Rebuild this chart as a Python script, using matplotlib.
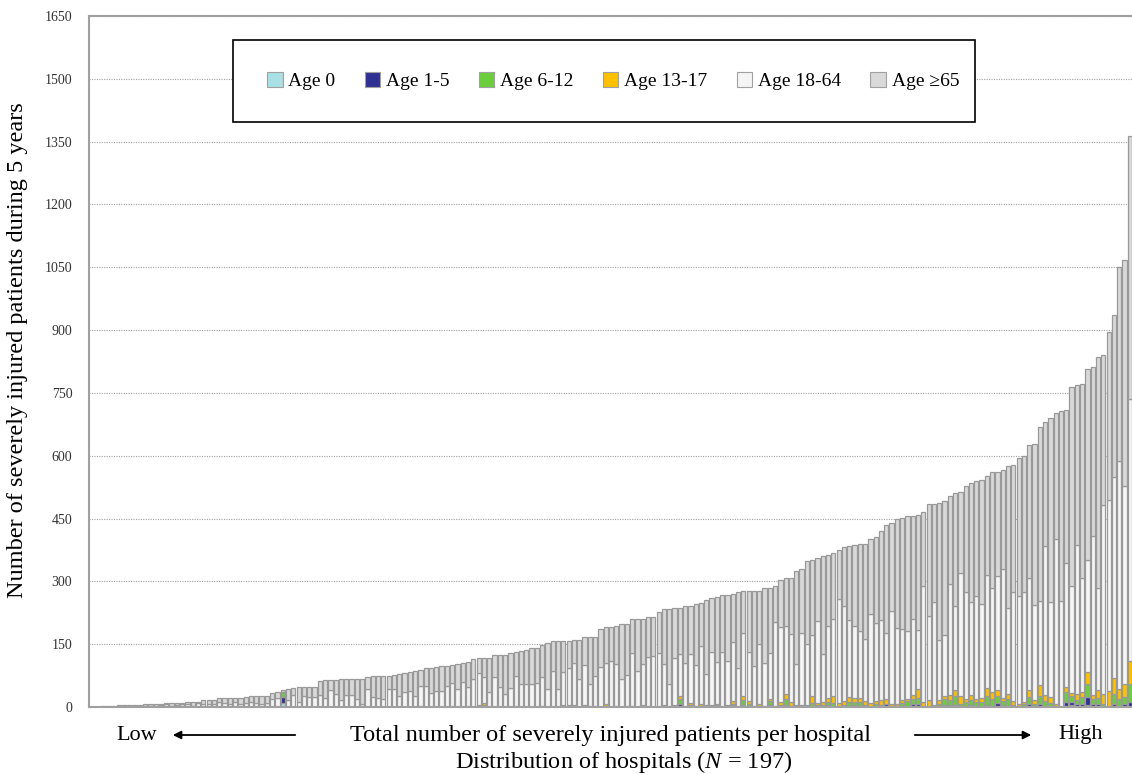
import numpy as np
import matplotlib
matplotlib.use("Agg")
import matplotlib.pyplot as plt
from matplotlib.patches import Patch, Rectangle

plt.rcParams['font.family'] = ['Liberation Serif', 'DejaVu Serif']
plt.rcParams['mathtext.fontset'] = 'custom'
plt.rcParams['mathtext.rm'] = 'Liberation Serif'
plt.rcParams['mathtext.it'] = 'Liberation Serif:italic'

# Total severely injured patients per hospital (5 years), hospitals sorted ascending
total = [
    1, 1, 2, 2, 3, 4, 4, 5, 5, 5, 6, 6, 7, 7, 9, 9, 10, 10, 11, 12,
    13, 16, 17, 17, 21, 21, 21, 21, 21, 24, 26, 26, 26, 27, 33, 37, 40, 42, 45, 47,
    47, 47, 48, 62, 64, 65, 65, 67, 67, 68, 68, 68, 71, 75, 75,
    75, 75, 77, 79, 80, 83, 87, 88, 94, 94, 96, 98, 98, 100, 102, 104, 108, 114, 116, 118,
    118, 124, 124, 124, 129, 132, 133, 137, 140, 140, 148, 152, 158, 158, 158, 158, 161, 161, 168, 168,
    168, 187, 191, 191, 194, 197, 198, 209, 211, 211, 214, 215, 227, 233, 235, 237, 237,
    242, 242, 246, 248, 256, 260, 262, 268, 268, 269, 274, 276, 278, 278, 278, 284, 284, 290, 304, 307,
    307, 325, 330, 348, 352, 356, 360, 362, 367, 374, 382, 384, 387, 390, 390, 401, 406, 421, 434, 440,
    449,
    451, 456, 456, 458, 465, 484, 484, 488, 493, 504, 511, 513, 528, 535, 539, 541, 551, 560, 561, 565,
    576, 578, 595, 600, 625, 629, 669, 680, 689, 703, 707, 708, 764, 768, 772, 808, 812, 836, 840, 895,
    937, 1050, 1067, 1364,
]

# Age 18-64 per hospital
age_18_64 = [
    0, 1, 1, 1, 1, 2, 1, 2, 3, 2, 3, 2, 3, 4, 6, 3, 4, 6, 7, 3,
    9, 7, 7, 8, 11, 10, 8, 11, 6, 10, 12, 9, 6, 9, 18, 21, 1, 17, 29, 13,
    26, 24, 23, 29, 21, 40, 31, 17, 29, 29, 18, 7, 42, 25, 21,
    18, 44, 42, 26, 36, 39, 27, 49, 51, 33, 39, 39, 51, 56, 43, 59, 45, 67, 75, 63,
    35, 72, 47, 30, 46, 72, 56, 56, 55, 58, 70, 42, 87, 42, 79, 88, 99, 67, 96, 52,
    73, 96, 99, 109, 100, 67, 74, 126, 87, 97, 118, 121, 129, 97, 55, 111, 100,
    106, 117, 97, 140, 75, 127, 100, 132, 106, 141, 93, 149, 117, 96, 142, 101, 110, 199, 179, 162,
    162, 97, 171, 147, 145, 197, 114, 172, 183, 247, 225, 183, 172, 160, 149, 211, 186, 191, 156, 224,
    180,
    171, 163, 182, 142, 279, 202, 245, 144, 144, 266, 201, 294, 256, 222, 247, 226, 269, 250, 272, 308,
    206, 260, 257, 262, 266, 228, 200, 355, 226, 396, 253, 297, 256, 356, 272, 268, 381, 243, 451, 456,
    480, 544, 474, 626,
]

# Paediatric age groups: hospital rank -> patients (all other hospitals: 0)
age_0 = {36: 10, 121: 5, 171: 3, 184: 3, 185: 5, 188: 5}
age_1_5 = {36: 13, 68: 2, 73: 5, 90: 1, 97: 2, 102: 2, 104: 2, 111: 7, 121: 3, 123: 4,
           128: 5, 131: 5, 132: 3, 139: 5, 143: 3, 144: 4, 145: 3, 150: 6, 155: 6, 156: 8,
           161: 4, 162: 4, 163: 4, 166: 4, 169: 4, 171: 7, 172: 5, 177: 6, 179: 6, 184: 8,
           185: 6, 186: 6, 187: 6, 188: 19, 189: 6, 190: 6, 193: 6, 195: 6, 196: 12}
age_6_12 = {36: 12, 62: 2, 74: 5, 85: 2, 93: 2, 95: 2, 99: 2, 111: 11, 113: 5, 114: 3,
            115: 3, 118: 5, 123: 12, 124: 6, 128: 9, 130: 5, 131: 15, 136: 10, 137: 4, 138: 5,
            139: 6, 140: 10, 142: 5, 143: 10, 144: 9, 145: 10, 146: 4, 148: 6, 149: 5, 152: 3,
            153: 9, 154: 14, 155: 14, 156: 14, 160: 8, 161: 16, 162: 12, 163: 23, 164: 8, 165: 11,
            166: 13, 167: 12, 168: 11, 169: 22, 170: 19, 171: 16, 172: 10, 173: 20, 174: 5, 176: 7,
            177: 19, 178: 8, 179: 20, 180: 15, 181: 10, 184: 24, 185: 16, 186: 10, 187: 19, 188: 32,
            189: 12, 190: 15, 191: 8, 193: 24, 194: 20, 195: 18, 196: 43}
age_13_17 = {71: 3, 74: 4, 80: 3, 89: 5, 90: 3, 91: 5, 93: 2, 94: 2, 97: 5, 101: 2,
             104: 3, 105: 2, 108: 5, 110: 5, 111: 8, 113: 5, 115: 3, 116: 4, 117: 5, 118: 3,
             120: 5, 121: 6, 123: 11, 124: 9, 125: 3, 126: 8, 127: 3, 128: 6, 129: 3, 130: 8,
             131: 12, 132: 9, 133: 5, 134: 5, 135: 4, 136: 16, 137: 5, 138: 8, 139: 11, 140: 17,
             141: 10, 142: 10, 143: 11, 144: 9, 145: 9, 146: 10, 147: 10, 148: 8, 149: 11, 150: 14,
             151: 6, 152: 5, 153: 7, 154: 5, 155: 8, 156: 21, 157: 11, 158: 16, 159: 5, 160: 8,
             161: 7, 162: 12, 163: 14, 164: 19, 165: 8, 166: 12, 167: 6, 168: 10, 169: 20, 170: 16,
             171: 15, 172: 6, 173: 11, 174: 10, 175: 7, 176: 6, 177: 16, 178: 8, 179: 27, 180: 14,
             181: 14, 182: 6, 184: 12, 185: 6, 186: 15, 187: 10, 188: 27, 189: 10, 190: 20, 191: 23,
             192: 39, 193: 40, 194: 23, 195: 30, 196: 55}

labels = ["Age 0", "Age 1-5", "Age 6-12", "Age 13-17", "Age 18-64", "Age \u226565"]
colors = ["#a8e0e4", "#2e3192", "#6cce3e", "#ffc000", "#f5f5f5", "#d9d9d9"]

n = len(total)
assert len(age_18_64) == n == 197


def expand(d):
    arr = np.zeros(n)
    for k, v in d.items():
        arr[k] = v
    return arr


young = [expand(age_0), expand(age_1_5), expand(age_6_12), expand(age_13_17)]
adult = np.array(age_18_64, dtype=float)
elderly = np.array(total, dtype=float) - adult - sum(young)
series = young + [adult, elderly]

fig = plt.figure(figsize=(11.32, 7.75), dpi=100)
ax = fig.add_axes([89 / 1132, 1 - 707 / 775, (1133 - 89) / 1132, (707 - 16) / 775])

x = np.arange(n)
bottom = np.zeros(n)
for vals, col in zip(series, colors):
    ax.bar(x, vals, bottom=bottom, width=0.8, color=col,
           edgecolor="#999999", linewidth=0.9, zorder=2)
    bottom += vals

ax.set_xlim(-0.6, n - 0.4)
ax.set_ylim(0, 1650)
ax.set_yticks(np.arange(0, 1651, 150))
ax.set_xticks([])
ax.tick_params(axis="y", length=0, pad=12, labelsize=10, labelcolor="#333333")
ax.yaxis.grid(True, linestyle=(0, (1, 1.2)), color="#a0a0a0", linewidth=0.8)
ax.set_axisbelow(True)
for side in ["left", "bottom", "top"]:
    ax.spines[side].set_color("#a0a0a0")
    ax.spines[side].set_linewidth(1.5)
ax.spines["right"].set_visible(False)

# Legend box
box = Rectangle((0.138, 0.8466), 0.711, 0.1187, transform=ax.transAxes,
                facecolor="white", edgecolor="black", linewidth=1.2, zorder=5)
ax.add_patch(box)
handles = [Patch(facecolor=c, edgecolor="#a0a0a0", linewidth=0.8) for c in colors]
leg = ax.legend(handles, labels, ncol=6, loc="center", bbox_to_anchor=(0.502, 0.906),
                frameon=False, fontsize=14, handlelength=0.8, handleheight=0.8,
                handletextpad=0.3, columnspacing=1.5)
leg.set_zorder(6)

fig.text(18 / 1132, 1 - 350 / 775, "Number of severely injured patients during 5 years",
         rotation=90, ha="center", va="center", fontsize=17.5)

yrow1 = 1 - 735 / 775
yrow2 = 1 - 762 / 775
fig.text(137 / 1132, yrow1, "Low", ha="center", va="center", fontsize=16)
fig.text(611 / 1132, yrow1, "Total number of severely injured patients per hospital",
         ha="center", va="center", fontsize=17.5)
fig.text(1081 / 1132, yrow1, "High", ha="center", va="center", fontsize=16)
fig.text(624 / 1132, yrow2, "Distribution of hospitals ($N$ = 197)",
         ha="center", va="center", fontsize=17.5)

arrow = dict(arrowstyle="-|>", color="black", lw=1.3, mutation_scale=12)
fig.add_artist(plt.Annotation("", xy=(170 / 1132, yrow1), xytext=(298 / 1132, yrow1),
                              xycoords="figure fraction", textcoords="figure fraction",
                              arrowprops=arrow))
fig.add_artist(plt.Annotation("", xy=(1034 / 1132, yrow1), xytext=(912 / 1132, yrow1),
                              xycoords="figure fraction", textcoords="figure fraction",
                              arrowprops=arrow))

fig.savefig("out.png", dpi=100, facecolor="white")
